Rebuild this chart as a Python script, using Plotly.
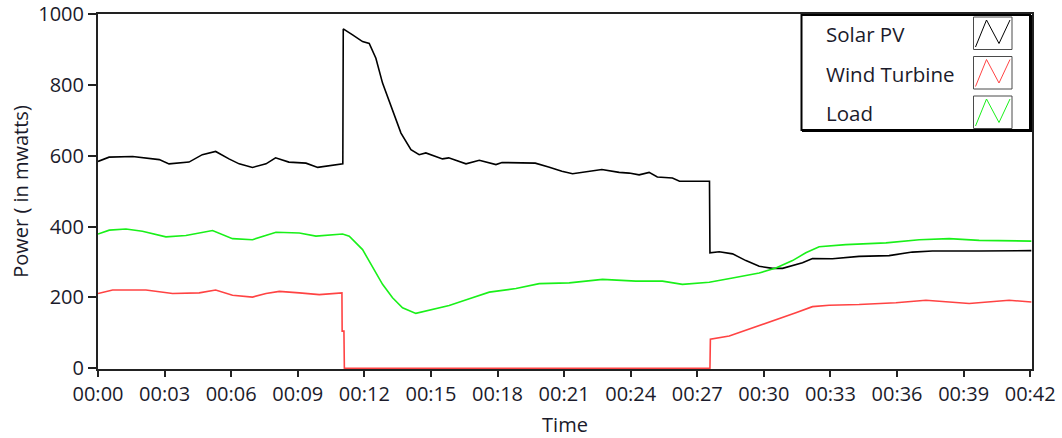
import plotly.graph_objects as go

# Time axis (mm:ss, in seconds) and tick labels
tick_seconds = list(range(0, 43, 3))
tick_labels = ["00:00", "00:03", "00:06", "00:09", "00:12", "00:15", "00:18",
               "00:21", "00:24", "00:27", "00:30", "00:33", "00:36", "00:39", "00:42"]

# Solar PV output
solar_t = [0.0, 0.5, 1.56, 2.76, 3.2, 4.1, 4.7, 5.3, 5.9, 6.36, 6.96, 7.57, 8.0, 8.6, 9.37,
           9.9, 11.03, 11.05, 11.47, 11.92, 12.22, 12.52, 12.82, 13.27, 13.65, 14.1, 14.47,
           14.77, 15.52, 15.8, 16.58, 17.18, 17.93, 18.2, 19.7, 20.3, 20.9, 21.38, 22.13,
           22.7, 23.48, 23.93, 24.38, 24.83, 25.2, 25.88, 26.2, 27.55, 27.57, 27.99, 28.59,
           29.19, 29.79, 30.39, 30.84, 31.29, 31.74, 32.19, 33.09, 34.29, 35.64, 36.69,
           37.59, 39.7, 42.05]
solar_mw = [584, 596, 598, 589, 577, 582, 603, 612, 591, 577, 567, 577, 594, 582, 579,
            567, 577, 958, 941, 922, 917, 875, 805, 730, 664, 617, 603,
            608, 591, 594, 577, 587, 575, 581, 579, 568, 556, 549, 556,
            561, 553, 551, 546, 553, 540, 537, 528, 528, 326, 329, 323,
            304, 288, 282, 282, 290, 298, 310, 309, 316, 318, 328,
            331, 331, 332]

# Wind turbine output
wind_t = [0, 0.66, 2.16, 2.76, 3.36, 4.56, 5.3, 6.06, 6.96, 7.57, 8.17, 9.07, 9.97, 10.99,
          11.0, 11.08, 11.1, 27.57, 27.59, 28.44, 29.19, 29.94, 30.69, 31.44, 32.19, 32.94,
          34.29, 35.95, 37.3, 38.2, 39.25, 41.05, 42.05]
wind_mw = [211, 221, 221, 215, 211, 213, 221, 206, 201, 211, 217, 213, 208, 213,
           105, 105, 0, 0, 82, 91, 107, 124, 141, 157, 174, 178,
           180, 185, 192, 188, 183, 192, 187]

# Load demand
load_t = [0, 0.51, 1.26, 2.0, 3.06, 3.96, 5.16, 6.06, 6.96, 8.02, 9.07, 9.82, 11.02, 11.32,
          11.92, 12.37, 12.82, 13.27, 13.72, 14.32, 14.92, 15.82, 16.73, 17.63, 18.83, 19.88,
          21.23, 22.73, 24.23, 25.43, 26.33, 27.54, 28.59, 29.79, 30.54, 31.29, 31.89, 32.49,
          33.69, 35.5, 37.0, 38.35, 39.7, 42.05]
load_mw = [379, 390, 393, 387, 371, 375, 389, 366, 363, 384, 382, 373, 379, 373,
           335, 288, 237, 199, 171, 155, 163, 177, 196, 215, 225, 239,
           241, 251, 246, 246, 237, 243, 255, 269, 283, 304, 326, 343,
           349, 354, 363, 366, 361, 359]

series = [
    ("Solar PV", solar_t, solar_mw, "#000000"),
    ("Wind Turbine", wind_t, wind_mw, "#ff4343"),
    ("Load", load_t, load_mw, "#19f019"),
]

FONT = "Open Sans"
TXT = "#1b1b2b"
W, H = 1062, 438
ML, MR, MT, MB = 98, 30, 14, 69

fig = go.Figure()
for name, t, v, col in series:
    fig.add_trace(go.Scatter(x=t, y=v, mode="lines", name=name,
                             line=dict(color=col, width=1.6), showlegend=False))

# pixel -> paper helpers for the boxed legend
pw, ph = W - ML - MR, H - MT - MB
def px(x):
    return (x - ML) / pw
def py(y):
    return (H - MB - y) / ph

shapes = []
annotations = []
# legend frame with heavier right/bottom edge
shapes.append(dict(type="rect", xref="paper", yref="paper",
                   x0=px(801.5), x1=px(1030), y0=py(130), y1=py(15),
                   line=dict(color="black", width=2), fillcolor="white", layer="above"))
shapes.append(dict(type="path", xref="paper", yref="paper",
                   path=f"M {px(802)},{py(130.5)} L {px(1030.5)},{py(130.5)} L {px(1030.5)},{py(15)}",
                   line=dict(color="black", width=3), layer="above"))
row_tops = [17, 56.5, 96]
for (name, _, _, col), top in zip(series, row_tops):
    bot = top + 32.5
    x0, x1 = 973.5, 1012
    shapes.append(dict(type="rect", xref="paper", yref="paper",
                       x0=px(x0), x1=px(x1), y0=py(bot), y1=py(top),
                       line=dict(color="#4a4a4a", width=1), fillcolor="white", layer="above"))
    zz = [(975.5, bot - 2.5), (986.5, top + 3), (999, bot - 6), (1010, top + 3)]
    path = "M " + " L ".join(f"{px(a)},{py(b)}" for a, b in zz)
    shapes.append(dict(type="path", xref="paper", yref="paper", path=path,
                       line=dict(color=col, width=1), layer="above"))
    annotations.append(dict(xref="paper", yref="paper", x=px(824), y=py(top + 17),
                            xanchor="left", yanchor="middle", text=name, showarrow=False,
                            font=dict(family=FONT, size=20.5, color=TXT)))

fig.update_layout(
    width=W, height=H,
    margin=dict(l=ML, r=MR, t=MT, b=MB, autoexpand=False),
    paper_bgcolor="white", plot_bgcolor="white",
    font=dict(family=FONT, size=20, color=TXT),
    shapes=shapes, annotations=annotations,
    xaxis=dict(range=[0, 42.08], tickvals=tick_seconds, ticktext=tick_labels,
               showgrid=False, zeroline=False, showline=True, mirror=True,
               linecolor="#222", linewidth=2, ticks="outside", ticklen=6,
               tickcolor="#222", tickwidth=1.5, layer="below traces", automargin=False,
               title=dict(text="Time", font=dict(family=FONT, size=20, color=TXT), standoff=13)),
    yaxis=dict(range=[-2, 1000], tickvals=[0, 200, 400, 600, 800, 1000],
               showgrid=False, zeroline=False, showline=True, mirror=True,
               linecolor="#222", linewidth=2, ticks="outside", ticklen=8,
               tickcolor="#222", tickwidth=1.5, layer="below traces", automargin=False,
               title=dict(text="Power ( in mwatts)", font=dict(family=FONT, size=20, color=TXT), standoff=4)),
)

fig.write_html("out.html")
